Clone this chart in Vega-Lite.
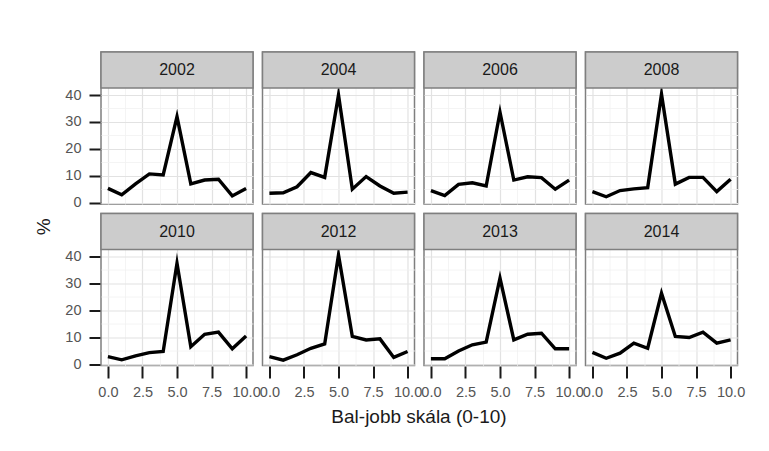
{
  "$schema": "https://vega.github.io/schema/vega-lite/v6.json",
  "padding": {"left": 34, "top": 50, "right": 20, "bottom": 10},
  "background": "white",
  "bounds": "flush",
  "title": {"text": "%", "orient": "left", "anchor": "middle", "font": "Liberation Sans", "fontSize": 19, "fontWeight": "normal", "color": "#1a1a1a", "offset": 11, "dx": 12},
  "data": {"values": [
    {"year":"2002","x":0,"pct":5.3},{"year":"2002","x":1,"pct":2.9},{"year":"2002","x":2,"pct":7.0},{"year":"2002","x":3,"pct":10.7},{"year":"2002","x":4,"pct":10.3},{"year":"2002","x":5,"pct":32.0},{"year":"2002","x":6,"pct":7.0},{"year":"2002","x":7,"pct":8.4},{"year":"2002","x":8,"pct":8.7},{"year":"2002","x":9,"pct":2.5},{"year":"2002","x":10,"pct":5.3},
    {"year":"2004","x":0,"pct":3.5},{"year":"2004","x":1,"pct":3.7},{"year":"2004","x":2,"pct":5.9},{"year":"2004","x":3,"pct":11.2},{"year":"2004","x":4,"pct":9.4},{"year":"2004","x":5,"pct":40.0},{"year":"2004","x":6,"pct":5.0},{"year":"2004","x":7,"pct":9.7},{"year":"2004","x":8,"pct":6.2},{"year":"2004","x":9,"pct":3.5},{"year":"2004","x":10,"pct":3.9},
    {"year":"2006","x":0,"pct":4.5},{"year":"2006","x":1,"pct":2.6},{"year":"2006","x":2,"pct":6.8},{"year":"2006","x":3,"pct":7.4},{"year":"2006","x":4,"pct":6.2},{"year":"2006","x":5,"pct":33.6},{"year":"2006","x":6,"pct":8.4},{"year":"2006","x":7,"pct":9.6},{"year":"2006","x":8,"pct":9.3},{"year":"2006","x":9,"pct":5.0},{"year":"2006","x":10,"pct":8.4},
    {"year":"2008","x":0,"pct":4.1},{"year":"2008","x":1,"pct":2.2},{"year":"2008","x":2,"pct":4.5},{"year":"2008","x":3,"pct":5.1},{"year":"2008","x":4,"pct":5.6},{"year":"2008","x":5,"pct":40.3},{"year":"2008","x":6,"pct":6.9},{"year":"2008","x":7,"pct":9.4},{"year":"2008","x":8,"pct":9.4},{"year":"2008","x":9,"pct":4.1},{"year":"2008","x":10,"pct":8.7},
    {"year":"2010","x":0,"pct":2.8},{"year":"2010","x":1,"pct":1.6},{"year":"2010","x":2,"pct":3.1},{"year":"2010","x":3,"pct":4.3},{"year":"2010","x":4,"pct":4.7},{"year":"2010","x":5,"pct":37.5},{"year":"2010","x":6,"pct":6.5},{"year":"2010","x":7,"pct":11.1},{"year":"2010","x":8,"pct":11.9},{"year":"2010","x":9,"pct":5.7},{"year":"2010","x":10,"pct":10.5},
    {"year":"2012","x":0,"pct":2.8},{"year":"2012","x":1,"pct":1.5},{"year":"2012","x":2,"pct":3.5},{"year":"2012","x":3,"pct":5.9},{"year":"2012","x":4,"pct":7.5},{"year":"2012","x":5,"pct":40.6},{"year":"2012","x":6,"pct":10.3},{"year":"2012","x":7,"pct":9.0},{"year":"2012","x":8,"pct":9.4},{"year":"2012","x":9,"pct":2.5},{"year":"2012","x":10,"pct":4.7},
    {"year":"2013","x":0,"pct":2.0},{"year":"2013","x":1,"pct":2.0},{"year":"2013","x":2,"pct":4.9},{"year":"2013","x":3,"pct":7.2},{"year":"2013","x":4,"pct":8.2},{"year":"2013","x":5,"pct":32.0},{"year":"2013","x":6,"pct":9.0},{"year":"2013","x":7,"pct":11.1},{"year":"2013","x":8,"pct":11.5},{"year":"2013","x":9,"pct":5.7},{"year":"2013","x":10,"pct":5.7},
    {"year":"2014","x":0,"pct":4.4},{"year":"2014","x":1,"pct":2.2},{"year":"2014","x":2,"pct":4.1},{"year":"2014","x":3,"pct":7.8},{"year":"2014","x":4,"pct":5.9},{"year":"2014","x":5,"pct":26.4},{"year":"2014","x":6,"pct":10.3},{"year":"2014","x":7,"pct":9.9},{"year":"2014","x":8,"pct":11.9},{"year":"2014","x":9,"pct":7.8},{"year":"2014","x":10,"pct":9.0}
  ]},
  "facet": {"field": "year", "type": "ordinal", "header": {"title": "Bal-jobb skála (0-10)", "titleOrient": "bottom", "titleFont": "Liberation Sans", "titleFontSize": 19, "titleFontWeight": "normal", "titleColor": "#1a1a1a", "titlePadding": 9, "labels": false, "labelFontSize": 0, "labelPadding": 0, "labelExpr": "''"}},
  "columns": 4,
  "spacing": {"row": 9.5, "column": 9.5},
  "spec": {
    "width": 152,
    "height": 152,
    "encoding": {
      "x": {"field": "x", "type": "quantitative",
        "scale": {"domain": [-0.5, 10.5], "nice": false, "zero": false},
        "axis": {
          "title": null,
          "values": [0, 1.25, 2.5, 3.75, 5, 6.25, 7.5, 8.75, 10],
          "labelExpr": "datum.value % 2.5 === 0 ? format(datum.value, '.1f') : ''",
          "tickOpacity": {"condition": {"test": "datum.value % 2.5 === 0", "value": 1}, "value": 0},
          "gridColor": {"condition": {"test": "datum.value % 2.5 === 0", "value": "#e2e2e2"}, "value": "#f1f1f1"},
          "gridWidth": {"condition": {"test": "datum.value % 2.5 === 0", "value": 1.2}, "value": 0.8},
          "labelPadding": 7
        }
      },
      "y": {"field": "pct", "type": "quantitative",
        "scale": {"domain": [-0.5, 56], "nice": false, "zero": false},
        "axis": {
          "title": null,
          "values": [0, 5, 10, 15, 20, 25, 30, 35, 40],
          "labelExpr": "datum.value % 10 === 0 ? datum.label : ''",
          "tickOpacity": {"condition": {"test": "datum.value % 10 === 0", "value": 1}, "value": 0},
          "gridColor": {"condition": {"test": "datum.value % 10 === 0", "value": "#e2e2e2"}, "value": "#f1f1f1"},
          "gridWidth": {"condition": {"test": "datum.value % 10 === 0", "value": 1.2}, "value": 0.8},
          "labelPadding": 8
        }
      }
    },
    "layer": [
      {"mark": {"type": "line", "color": "black", "strokeWidth": 3.4, "strokeJoin": "miter", "strokeMiterLimit": 10}},
      {"transform": [{"filter": "datum.x === 5"}],
        "mark": {"type": "rect", "fill": "#cccccc", "stroke": "#7f7f7f", "strokeWidth": 1.5},
        "encoding": {"x": {"datum": -0.5}, "x2": {"datum": 10.5}, "y": {"datum": 42.6}, "y2": {"datum": 56}}},
      {"transform": [{"filter": "datum.x === 5"}],
        "mark": {"type": "text", "fontSize": 16, "font": "Liberation Sans", "color": "#1a1a1a", "baseline": "middle"},
        "encoding": {"text": {"field": "year"}, "x": {"datum": 5}, "y": {"datum": 49.3}}}
    ]
  },
  "config": {
    "view": {"stroke": "#7f7f7f", "strokeWidth": 1.5},
    "font": "Liberation Sans",
    "axis": {
      "domain": false,
      "tickSize": 12,
      "tickWidth": 2,
      "tickColor": "#1a1a1a",
      "labelFont": "Liberation Sans",
      "labelFontSize": 14.5,
      "labelColor": "#555555",
      "labelOverlap": false,
      "labelBound": false,
      "labelFlush": false
    }
  }
}
